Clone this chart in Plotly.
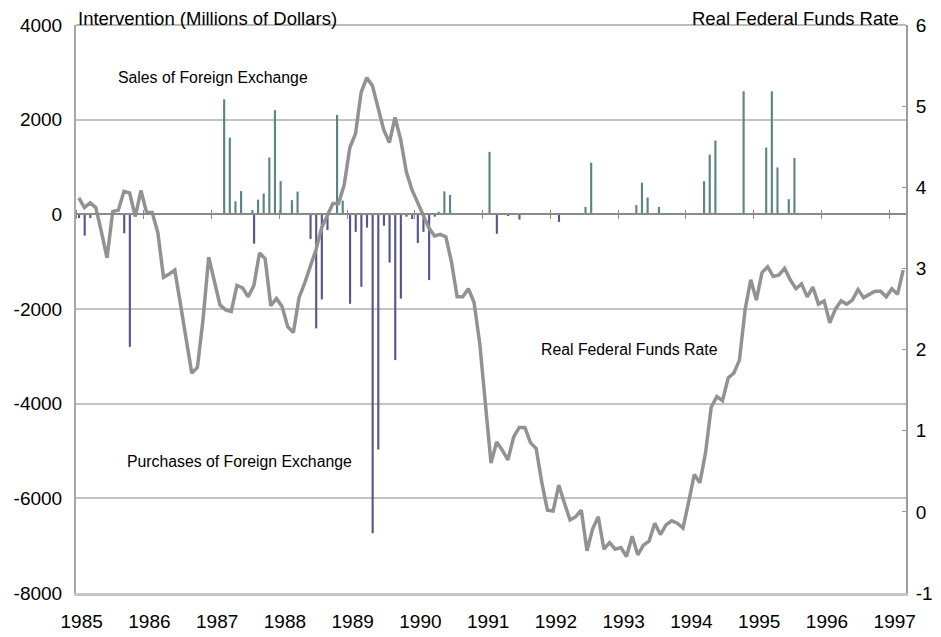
import plotly.graph_objects as go

# monthly data, Jan 1985 .. Mar 1997 (147 months)
START_YEAR = 1985
N_MONTHS = 147

real_fed_funds = [
    3.87, 3.75, 3.81, 3.75, 3.45, 3.13, 3.70, 3.72, 3.95, 3.93,
    3.64, 3.96, 3.69, 3.69, 3.44, 2.89, 2.93, 2.98, 2.56, 2.15,
    1.71, 1.78, 2.37, 3.14, 2.86, 2.55, 2.49, 2.47, 2.79, 2.76,
    2.65, 2.79, 3.19, 3.12, 2.54, 2.63, 2.53, 2.28, 2.21, 2.64,
    2.82, 3.01, 3.23, 3.50, 3.65, 3.80, 3.80, 4.03, 4.49, 4.66,
    5.17, 5.35, 5.25, 4.99, 4.71, 4.55, 4.86, 4.59, 4.19, 3.97,
    3.82, 3.67, 3.50, 3.40, 3.42, 3.39, 3.08, 2.65, 2.65, 2.75,
    2.58, 2.08, 1.38, 0.60, 0.86, 0.76, 0.64, 0.92, 1.04, 1.04,
    0.85, 0.78, 0.36, 0.02, 0.01, 0.33, 0.11, -0.10, -0.06, 0.02,
    -0.48, -0.21, -0.06, -0.46, -0.38, -0.46, -0.44, -0.55, -0.30, -0.53,
    -0.41, -0.36, -0.14, -0.28, -0.16, -0.11, -0.14, -0.20, 0.12, 0.46,
    0.36, 0.73, 1.29, 1.42, 1.37, 1.65, 1.71, 1.87, 2.49, 2.86,
    2.61, 2.95, 3.02, 2.90, 2.92, 3.00, 2.86, 2.75, 2.81, 2.65,
    2.77, 2.56, 2.60, 2.33, 2.50, 2.60, 2.56, 2.61, 2.74, 2.64,
    2.68, 2.72, 2.72, 2.65, 2.75, 2.68, 2.98,
]

# intervention, month index (0 = Jan 1985) and millions of dollars
sales_month = [26, 27, 28, 29, 31, 32, 33, 34, 35, 36, 38, 39, 46, 47,
               64, 65, 66, 73, 90, 91, 99, 100, 101, 103,
               111, 112, 113, 118, 122, 123, 124, 126, 127]
sales_value = [2430, 1620, 275, 490, 90, 310, 440, 1200, 2200, 700, 300, 480, 2100, 290,
               55, 485, 410, 1320, 155, 1090, 195, 670, 355, 155,
               700, 1260, 1560, 2600, 1410, 2600, 990, 320, 1190]

purchases_month = [0, 1, 2, 8, 9, 31, 41, 42, 43, 44,
                   48, 49, 50, 51, 52, 53, 54, 55, 56, 57, 58, 59,
                   60, 61, 62, 63, 74, 76, 78, 85]
purchases_value = [-80, -450, -80, -400, -2800, -620, -520, -2410, -1800, -330,
                   -1890, -370, -1530, -280, -6740, -4970, -240, -1020, -3080, -1780, -50, -100,
                   -605, -370, -1390, -50, -410, -30, -110, -160]

years = list(range(1985, 1998))
left_ticks = [4000, 2000, 0, -2000, -4000, -6000, -8000]
left_text = ["4000", "2000", "0", "-2000", "-4000", "-6000", "-8000"]
right_ticks = [6, 5, 4, 3, 2, 1, 0, -1]
right_text = ["6", "5", "4", "3", "2", "1", "0", "-1"]


def month_x(m):
    return START_YEAR + (m + 0.5) / 12


FONT = "Liberation Sans, Arial, sans-serif"
X_RANGE = [START_YEAR, START_YEAR + N_MONTHS / 12]
ZERO_POS = 8000 / 12000

fig = go.Figure()

fig.add_trace(go.Bar(
    x=[month_x(m) for m in sales_month], y=sales_value,
    width=0.38 / 12, offset=-0.45 / 12,
    marker_color="#5b8584", marker_line_width=0,
    xaxis="x", yaxis="y",
))
fig.add_trace(go.Bar(
    x=[month_x(m) for m in purchases_month], y=purchases_value,
    width=0.38 / 12, offset=-0.15 / 12,
    marker_color="#575790", marker_line_width=0,
    xaxis="x2", yaxis="y",
))
fig.add_trace(go.Scatter(
    x=[month_x(m) for m in range(N_MONTHS)], y=real_fed_funds,
    mode="lines", line=dict(color="#929292", width=3.5),
    xaxis="x3", yaxis="y2",
))

# the page body adds an 8px margin, so the figure is 8px smaller on each side
fig.update_layout(
    width=933, height=629,
    margin=dict(l=68, r=35, t=17, b=44, autoexpand=False),
    paper_bgcolor="white", plot_bgcolor="white",
    showlegend=False,
    font=dict(family=FONT, size=19, color="black"),
    xaxis=dict(
        range=X_RANGE, showgrid=False, zeroline=False, automargin=False,
        showline=True, linecolor="#c6c6c6", linewidth=2.5,
        ticks="", tickvals=[y + 1 / 12 for y in years], ticktext=[str(y) for y in years],
        ticklabelstandoff=9,
    ),
    xaxis2=dict(
        overlaying="x", anchor="free", position=ZERO_POS, range=X_RANGE, automargin=False,
        showgrid=False, zeroline=False, showline=True, linecolor="#8a8a8a", linewidth=1.5,
        ticks="outside", ticklen=4, tickwidth=1.2, tickcolor="#8a8a8a",
        tickvals=years, showticklabels=False,
    ),
    xaxis3=dict(
        overlaying="x", anchor="free", position=ZERO_POS, side="top", range=X_RANGE,
        automargin=False,
        showgrid=False, zeroline=False, showline=False,
        ticks="outside", ticklen=4, tickwidth=1.2, tickcolor="#8a8a8a",
        tickvals=years, showticklabels=False,
    ),
    yaxis=dict(
        range=[-8000, 4000], tickvals=left_ticks, ticktext=left_text, automargin=False,
        showgrid=True, gridcolor="#c2c2c2", gridwidth=2, zeroline=False,
        showline=True, linecolor="#a8a8a8", linewidth=2, ticks="",
        ticklabelstandoff=8,
    ),
    yaxis2=dict(
        overlaying="y", side="right", anchor="x", range=[-1, 6], automargin=False,
        tickvals=right_ticks, ticktext=right_text,
        showgrid=False, zeroline=False,
        showline=True, linecolor="#9c9c9c", linewidth=2,
        ticks="inside", ticklen=4, tickcolor="#9c9c9c",
        ticklabelstandoff=4,
    ),
)

# top frame line
fig.add_shape(type="line", xref="paper", yref="paper", x0=0, x1=1, y0=1, y1=1,
              line=dict(color="#a6a6a6", width=1.5))

labels = [
    ("Intervention (Millions of Dollars)", 0.0, 1.0114, "left", 18.5),
    ("Real Federal Funds Rate", 0.994, 1.0114, "right", 18.5),
    ("Sales of Foreign Exchange", 0.048, 0.908, "left", 15.8),
    ("Purchases of Foreign Exchange", 0.059, 0.231, "left", 15.8),
    ("Real Federal Funds Rate", 0.5578, 0.428, "left", 15.8),
]
for text, px, py, anchor, size in labels:
    fig.add_annotation(text=text, xref="paper", yref="paper", x=px, y=py,
                       xanchor=anchor, yanchor="middle", showarrow=False,
                       font=dict(family=FONT, size=size, color="black"))

fig.write_html("out.html")
